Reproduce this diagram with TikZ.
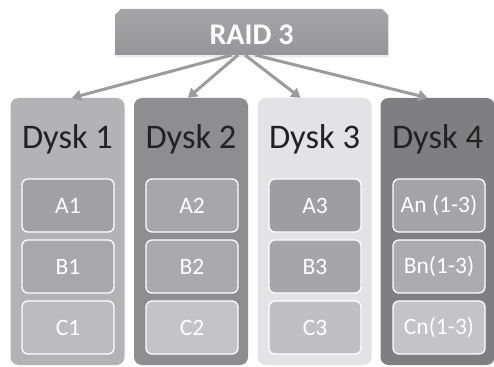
\documentclass[tikz,border=0pt]{standalone}
\usepackage{fontspec}
\setmainfont{Carlito}
\usetikzlibrary{arrows.meta}
\definecolor{raidtop}{HTML}{A6A6A8}
\definecolor{raidbot}{HTML}{959597}
\definecolor{arrowgray}{HTML}{9C9C9E}
\definecolor{dA}{HTML}{B3B3B5}
\definecolor{dB}{HTML}{8E8E90}
\definecolor{dC}{HTML}{E3E3E5}
\definecolor{dD}{HTML}{7F7F81}
\definecolor{titlecol}{HTML}{222222}
\definecolor{pa1}{HTML}{A1A1A3}
\definecolor{pb1}{HTML}{A8A8AA}
\definecolor{pc1}{HTML}{BCBCBE}
\definecolor{pa2}{HTML}{A7A7A9}
\definecolor{pb2}{HTML}{AAAAAC}
\definecolor{pc2}{HTML}{C4C4C6}
\definecolor{pa3}{HTML}{9E9EA0}
\definecolor{pb3}{HTML}{A6A6A8}
\definecolor{pc3}{HTML}{C0C0C2}
\definecolor{pa4}{HTML}{A4A4A6}
\definecolor{pb4}{HTML}{ACACAE}
\definecolor{pc4}{HTML}{C4C4C6}
\begin{document}
\begin{tikzpicture}[x=1pt,y=-1pt,
  disk/.style={draw=none, rounded corners=8pt, minimum width=114pt, minimum height=267pt, inner sep=0pt},
  part/.style={draw=white, line width=1.3pt, rounded corners=6pt, minimum width=92pt, minimum height=53pt, inner sep=0pt, text=white, font=\fontsize{23.5}{23.5}\selectfont},
  disktitle/.style={anchor=base, text=titlecol, font=\fontsize{34.5}{34.5}\selectfont, inner sep=0pt},
  conn/.style={draw=arrowgray, line width=3pt, -{Triangle[length=9pt,width=11pt]}}]
\useasboundingbox (0,0) rectangle (494,366);
\fill[white] (0,0) rectangle (494,366);
% RAID box with shadow
\fill[black!15, opacity=0.5] (116,57.5) -- (116,17) -- (122,11) -- (383,11) -- (389,17) -- (389,57.5) -- cycle;
\shade[top color=raidtop, bottom color=raidbot] (115,55) -- (115,15) -- (121,9) -- (382,9) -- (388,15) -- (388,55) -- cycle;
\node[anchor=base, text=white, font=\bfseries\fontsize{30}{30}\selectfont, inner sep=0pt] (raid) at (251.5,45) {RAID 3};
\coordinate (s1) at (232,55);
\coordinate (s2) at (238,55);
\coordinate (s3) at (245,55);
\coordinate (s4) at (255,55);
% disks
\node[disk, fill=dA] (d1) at (67.5,231.5) {};
\node[disk, fill=dB] (d2) at (191,231.5) {};
\node[disk, fill=dC] (d3) at (314.5,231.5) {};
\node[disk, fill=dD] (d4) at (437.5,231.5) {};
\node[disktitle] (t1) at (67.5,148) {Dysk 1};
\node[disktitle] (t2) at (191,148) {Dysk 2};
\node[disktitle] (t3) at (314.5,148) {Dysk 3};
\node[disktitle] (t4) at (437.5,148) {Dysk 4};
% parts
\node[part, fill=pa1] (a1) at (68,205.5) {A1};
\node[part, fill=pb1] (b1) at (68,266.5) {B1};
\node[part, fill=pc1] (c1) at (68,327.5) {C1};
\node[part, fill=pa2] (a2) at (192,205.5) {A2};
\node[part, fill=pb2] (b2) at (192,266.5) {B2};
\node[part, fill=pc2] (c2) at (192,327.5) {C2};
\node[part, fill=pa3] (a3) at (315,205.5) {A3};
\node[part, fill=pb3] (b3) at (315,266.5) {B3};
\node[part, fill=pc3] (c3) at (315,327.5) {C3};
\node[part, fill=pa4] (a4) at (439,205.5) {An (1-3)};
\node[part, fill=pb4] (b4) at (439,266.5) {Bn(1-3)};
\node[part, fill=pc4] (c4) at (439,327.5) {Cn(1-3)};
% arrows
\draw[conn] (s1) -- ([xshift=4.5pt]d1.north);
\draw[conn] (s2) -- ([xshift=-3pt]d2.north);
\draw[conn] (s3) -- ([xshift=-14pt]d3.north);
\draw[conn] (s4) -- ([xshift=-10pt]d4.north);
\end{tikzpicture}
\end{document}
